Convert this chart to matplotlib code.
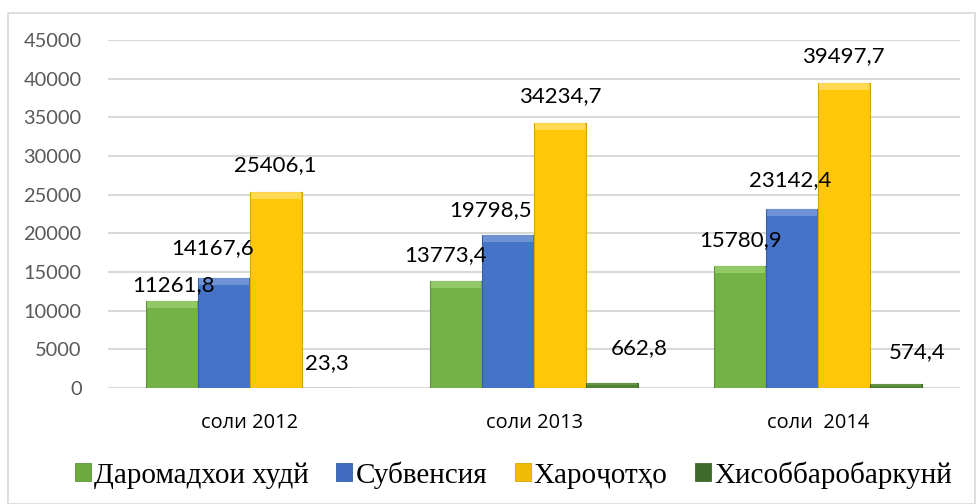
import matplotlib
matplotlib.use("Agg")
import matplotlib.pyplot as plt
from matplotlib.patches import Patch, Rectangle
import numpy as np

categories = ["соли 2012", "соли 2013", "соли  2014"]
series_names = ["Даромадхои худй", "Субвенсия", "Хароҷотҳо", "Хисоббаробаркунй"]
own_revenue = [11261.8, 13773.4, 15780.9]
subvention = [14167.6, 19798.5, 23142.4]
expenses = [25406.1, 34234.7, 39497.7]
balancing = [23.3, 662.8, 574.4]
value_labels = [
    ["11261,8", "13773,4", "15780,9"],
    ["14167,6", "19798,5", "23142,4"],
    ["25406,1", "34234,7", "39497,7"],
    ["23,3", "662,8", "574,4"],
]
yticks = [0, 5000, 10000, 15000, 20000, 25000, 30000, 35000, 40000, 45000]

series = [own_revenue, subvention, expenses, balancing]
colors = ["#74B146", "#4573C8", "#FFC708", "#548235"]
highlights = ["#9BCF72", "#7A9BDB", "#FFE066", "#6E9E4C"]
edges = ["#5E9438", "#3560A8", "#D9A400", "#3F6B2A"]
legend_colors = ["#6BAA3F", "#3E6BBE", "#F2BB05", "#3F6B2A"]

# label offsets in pixels (dx, dy) from bar top-center
offsets = [
    [(1, 16), (-11, 26), (0, 26)],
    [(-11, 30), (-17, 25), (-2, 29)],
    [(-1, 26), (0, 27), (-1, 26)],
    [(-1, 25), (27, 35), (21, 31)],
]

DPI = 100
fig = plt.figure(figsize=(9.76, 5.04), dpi=DPI)
ax = fig.add_axes([108 / 976, (504 - 388) / 504, (960 - 108) / 976, 348 / 504])

ymax = 45000
band = 7 * ymax / 348  # ~7 px bevel highlight at bar tops

x = np.arange(len(categories))
width = 0.183
for i, vals in enumerate(series):
    pos = x + (i - 1.5) * width
    vals = np.asarray(vals)
    ax.bar(pos, vals, width=width, color=colors[i], edgecolor=edges[i],
           linewidth=0.8, zorder=3)
    hb = np.minimum(band, vals * 0.5)
    ax.bar(pos, hb, bottom=vals - hb, width=width * 0.96, color=highlights[i],
           linewidth=0, zorder=4, alpha=0.8)
    for j, v in enumerate(vals):
        ax.annotate(value_labels[i][j], (pos[j], v), xytext=offsets[i][j],
                    textcoords="offset pixels", ha="center", va="center",
                    fontsize=16, family=["Lato", "DejaVu Sans"], color="#000000",
                    zorder=5)

ax.set_xlim(-0.5, 2.5)
ax.set_ylim(0, ymax)
ax.set_yticks(yticks)
ax.set_yticklabels([str(t) for t in yticks], fontsize=14.4,
                   family=["Lato", "DejaVu Sans"], color="#595959")
ax.set_xticks(x)
ax.set_xticklabels(categories, fontsize=14.4, family=["Open Sans", "DejaVu Sans"],
                   color="#000000")
ax.tick_params(axis="y", length=0, pad=19)
ax.tick_params(axis="x", length=0, pad=18)
ax.grid(axis="y", color="#D9D9D9", linewidth=1.5, zorder=0)
ax.set_axisbelow(True)
for s in ax.spines.values():
    s.set_visible(False)
ax.axhline(0, color="#D9D9D9", linewidth=2, zorder=2)

handles = [Patch(facecolor=legend_colors[i], edgecolor=edges[i], linewidth=0.6)
           for i in range(4)]
fig.legend(handles, series_names, loc="center", bbox_to_anchor=(0.526, 0.058),
           ncol=4, frameon=False, handlelength=0.55, handleheight=0.55,
           handletextpad=0.1, columnspacing=0.95,
           prop={"family": "Liberation Serif", "size": 21})

fig.patches.append(Rectangle((8 / 976, 0), 1 - 9 / 976, 1 - 13 / 504,
                             transform=fig.transFigure, fill=False,
                             edgecolor="#D9D9D9", linewidth=1.2))

fig.savefig("out.png", dpi=DPI)
